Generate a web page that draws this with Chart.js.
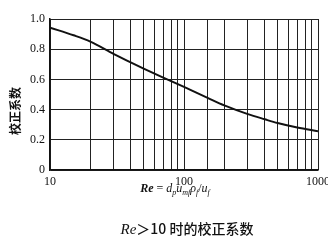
<!DOCTYPE html>
<html>
<head>
<meta charset="utf-8">
<script src="https://cdn.jsdelivr.net/npm/chart.js@4.4.1/dist/chart.umd.min.js"></script>
<style>
  html, body { margin: 0; padding: 0; background: #fff; }
  #wrap { width: 328px; height: 248px; }
</style>
</head>
<body>
<div id="wrap"><canvas id="chart" width="328" height="248"></canvas></div>
<script>
// dati
var reValues = [10, 15, 20, 30, 40, 50, 70, 100, 150, 200, 300, 400, 500, 700, 1000];
var factorValues = [0.943, 0.892, 0.85, 0.768, 0.713, 0.672, 0.612, 0.55, 0.478, 0.428, 0.37, 0.336, 0.311, 0.281, 0.257];
var yTicks = [0, 0.2, 0.4, 0.6, 0.8, 1.0];
var xLabels = [10, 100, 1000];

var yTitle = "校正系数";
var caption = "＞10 时的校正系数";

var serif = "'Liberation Serif', 'DejaVu Serif', serif";
var cjk = "'Noto Sans CJK SC', sans-serif";

// funzione per disegnare un testo a pezzi (con pedici)
function drawParts(ctx, parts, cx, y) {
  var total = 0;
  parts.forEach(function(p) {
    ctx.font = p.font;
    p.w = ctx.measureText(p.t).width;
    total += p.w;
  });
  var x = cx - total / 2;
  parts.forEach(function(p) {
    ctx.font = p.font;
    ctx.fillText(p.t, x, y + (p.dy || 0));
    x += p.w;
  });
}

var textPlugin = {
  id: "textPlugin",
  afterDraw: function(chart) {
    var ctx = chart.ctx;
    ctx.save();
    ctx.fillStyle = "#111";
    ctx.textBaseline = "alphabetic";
    ctx.textAlign = "left";

    // titolo asse y
    ctx.save();
    ctx.translate(20, 111);
    ctx.rotate(-Math.PI / 2);
    ctx.textAlign = "center";
    ctx.font = "bold 12px " + cjk;
    ctx.fillText(yTitle, 0, 0);
    ctx.restore();

    // titolo asse x con pedici
    var it = "italic 12px " + serif;
    var rm = "12px " + serif;
    var sub = "italic 8px " + serif;
    drawParts(ctx, [
      {t: "Re", font: "italic bold 12px " + serif},
      {t: " = ", font: rm},
      {t: "d", font: it},
      {t: "p", font: sub, dy: 3},
      {t: "u", font: it},
      {t: "mf", font: sub, dy: 3},
      {t: "ρ", font: it},
      {t: "f", font: sub, dy: 3},
      {t: "/", font: rm},
      {t: "u", font: it},
      {t: "f", font: sub, dy: 3}
    ], 175, 192);

    // didascalia
    drawParts(ctx, [
      {t: "Re", font: "italic 15px " + serif},
      {t: caption, font: "500 14px " + cjk}
    ], 187, 234);

    ctx.restore();
  }
};

var ctxLine = document.getElementById("chart");
var lineGraph = new Chart(ctxLine, {
  type: "line",
  data: {
    datasets: [{
      data: reValues.map(function(r, i) { return {x: r, y: factorValues[i]}; }),
      borderColor: "#111",
      borderWidth: 2,
      pointRadius: 0,
      fill: false,
      cubicInterpolationMode: "monotone"
    }]
  },
  options: {
    responsive: false,
    animation: false,
    layout: { padding: { top: 19, right: 10, left: 0, bottom: 0 } },
    plugins: {
      legend: { display: false },
      tooltip: { enabled: false }
    },
    scales: {
      x: {
        type: "logarithmic",
        min: 10,
        max: 1000,
        afterFit: function(scale) {
          scale.height = 78;
          scale.paddingLeft = 0;
          scale.paddingRight = 0;
        },
        grid: { color: "#222", lineWidth: 1, drawTicks: false },
        border: { color: "#111", width: 1.5 },
        ticks: {
          autoSkip: false,
          maxRotation: 0,
          padding: 5,
          color: "#111",
          font: { family: serif, size: 12 },
          callback: function(v) {
            return xLabels.indexOf(v) >= 0 ? String(v) : "";
          }
        }
      },
      y: {
        min: 0,
        max: 1,
        afterBuildTicks: function(scale) {
          scale.ticks = yTicks.map(function(v) { return {value: v}; });
        },
        afterFit: function(scale) {
          scale.width = 50;
        },
        grid: { color: "#222", lineWidth: 1, drawTicks: false },
        border: { color: "#111", width: 1.5 },
        ticks: {
          padding: 5,
          color: "#111",
          font: { family: serif, size: 12 },
          callback: function(v) {
            return v === 0 ? "0" : v.toFixed(1);
          }
        }
      }
    }
  },
  plugins: [textPlugin]
});
</script>
</body>
</html>
